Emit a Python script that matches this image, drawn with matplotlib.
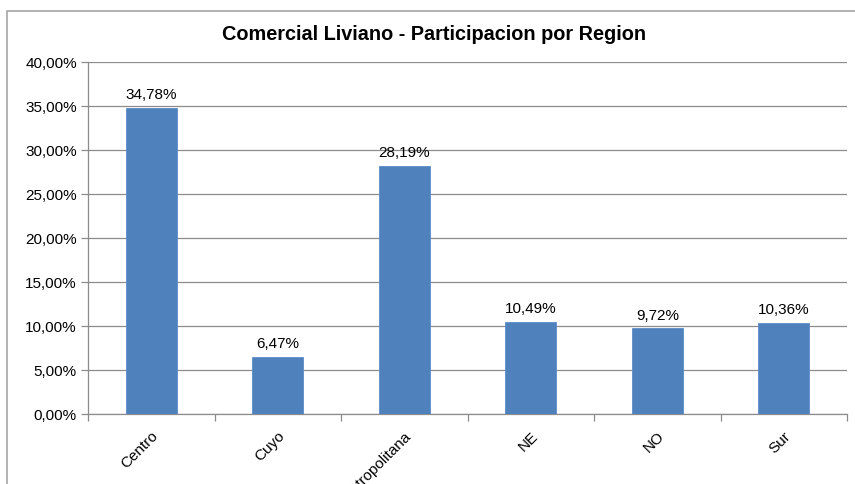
import matplotlib
matplotlib.use("Agg")
import matplotlib.pyplot as plt
from matplotlib.patches import Rectangle
from matplotlib.ticker import FuncFormatter, FixedLocator, NullFormatter
import numpy as np

plt.rcParams['font.family'] = ['Liberation Sans', 'DejaVu Sans']

categories = ["Centro", "Cuyo", "Metropolitana", "NE", "NO", "Sur"]
values = [34.78, 6.47, 28.19, 10.49, 9.72, 10.36]
title = "Comercial Liviano - Participacion por Region"

W, H = 855, 485
fig = plt.figure(figsize=(W / 100, H / 100), dpi=100)
ax = fig.add_axes([88 / W, 1 - 415 / H, 759 / W, 352 / H])

x = np.arange(len(categories))
bar_color = "#4F81BD"
ax.bar(x, values, width=0.4, color=bar_color, edgecolor="#5B8CC8", linewidth=0.6, zorder=3)

ax.set_xlim(-0.5, len(categories) - 0.5)
ax.set_ylim(0, 40)
ax.set_yticks(np.arange(0, 40.01, 5))
ax.yaxis.set_major_formatter(FuncFormatter(lambda v, p: f"{v:.2f}%".replace(".", ",")))
ax.tick_params(axis='y', length=5, width=0.9, color="#8C8C8C", pad=3, labelsize=11, labelcolor="black")
ax.grid(axis='y', color="#8C8C8C", linewidth=0.9, zorder=0)
ax.set_axisbelow(True)

# category labels
ax.set_xticks(x)
ax.set_xticklabels(categories, rotation=45, ha='right', va='top', rotation_mode='anchor', fontsize=11)
ax.tick_params(axis='x', which='major', length=0, pad=10)
ax.xaxis.set_minor_locator(FixedLocator(np.arange(-0.5, len(categories), 1)))
ax.xaxis.set_minor_formatter(NullFormatter())
ax.tick_params(axis='x', which='minor', length=5, color="#8C8C8C", width=0.9, direction='out')

for s in ['top', 'right']:
    ax.spines[s].set_visible(False)
for s in ['left', 'bottom']:
    ax.spines[s].set_color("#8C8C8C")
    ax.spines[s].set_linewidth(0.9)

for xi, v in zip(x, values):
    ax.annotate(f"{v:.2f}%".replace(".", ","), (xi, v), xytext=(0, 5), textcoords='offset points',
                ha='center', va='bottom', fontsize=11)

fig.text(434 / W, 1 - 34 / H, title, ha='center', va='center', fontsize=14.3, fontweight='bold')

# chart area border (extends beyond the image on right and bottom)
fig.patches.append(Rectangle((6.5 / W, -0.1), 1.0, 1.1 - 11.5 / H, transform=fig.transFigure,
                             fill=False, edgecolor="#A6A6A6", linewidth=1.2))

fig.savefig("out.png", dpi=100)
